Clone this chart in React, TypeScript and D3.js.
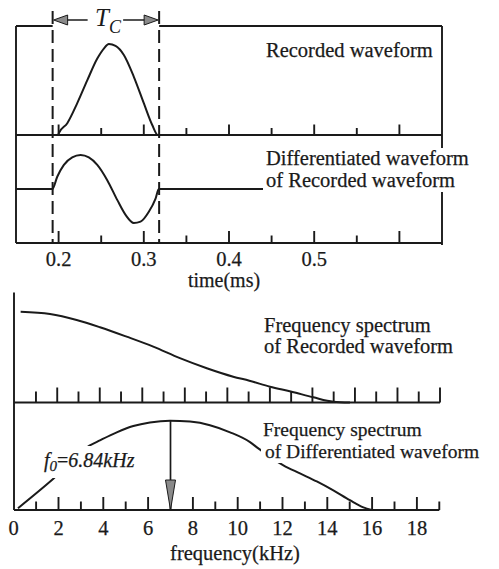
import React from "react";
import * as d3 from "d3";

// ---------- data ----------
const timeTicks = [0.2, 0.25, 0.3, 0.35, 0.4, 0.45, 0.5, 0.55, 0.6];
const timeLabels = [0.2, 0.3, 0.4, 0.5];
const tcStart = 0.193;
const tcEnd = 0.318;

const recordedT = [0.15, 0.1995, 0.2003, 0.2102, 0.2219, 0.2336, 0.2454, 0.2531, 0.259, 0.2668, 0.2766, 0.2883, 0.3, 0.3099, 0.3165, 0.65];
const recordedV = [0, 0, 0.02, 0.13, 0.35, 0.6, 0.84, 0.95, 1.0, 0.98, 0.88, 0.64, 0.35, 0.11, 0.0, 0];

const diffT = [0.15, 0.1926, 0.1984, 0.2062, 0.216, 0.2258, 0.2355, 0.2454, 0.2571, 0.2688, 0.2786, 0.2883, 0.2962, 0.3059, 0.3138, 0.3176, 0.65];
const diffV = [0, 0.0, 0.36, 0.71, 0.93, 1.0, 0.93, 0.71, 0.26, -0.32, -0.76, -1.0, -0.96, -0.67, -0.28, 0.0, 0];

const freqLabels = [0, 2, 4, 6, 8, 10, 12, 14, 16, 18];
const freqTicksBottom = [1, 2, 3, 4, 5, 6, 7, 8, 9, 10, 11, 12, 13, 14, 15, 16, 17, 18, 19];
const freqTicksMid = [1, 2, 3, 4, 5, 6, 7, 8, 9, 10, 11, 12, 13, 14, 15, 16, 17, 18, 19, 20];

const spec1F = [0.31, 1.62, 2.81, 3.85, 5.04, 6.23, 7.42, 8.62, 9.8, 10.52, 11.44, 12.41, 13.38, 14.27, 15.01];
const spec1V = [1.0, 0.975, 0.909, 0.829, 0.725, 0.615, 0.488, 0.377, 0.284, 0.24, 0.174, 0.119, 0.057, 0.009, 0.0];

const spec2F = [0.19, 1.77, 3.38, 3.85, 4.6, 5.34, 6.08, 6.98, 7.87, 8.76, 9.66, 10.55, 10.92, 12.04, 12.78, 13.53, 14.27, 15.01, 15.61, 15.98];
const spec2V = [0.02, 0.35, 0.72, 0.78, 0.87, 0.94, 0.98, 1.0, 0.99, 0.95, 0.87, 0.76, 0.69, 0.5, 0.41, 0.32, 0.22, 0.11, 0.03, 0.0];

const peakFreqMark = 7.0;
const f0Text = "6.84kHz";

// ---------- layout ----------
const W = 499, H = 569;
const FONT = "Liberation Serif, DejaVu Serif, Times New Roman, serif";
const INK = "#1a1a1a";

export default function App() {
  const xT = d3.scaleLinear().domain([0.15, 0.65]).range([16, 442]);
  const yRec = d3.scaleLinear().domain([0, 1]).range([135, 44]);
  const yDiff = d3.scaleLinear().domain([-1, 1]).range([223, 155]);
  const xF = d3.scaleLinear().domain([0, 19]).range([13.7, 439.3]);
  const xFm = d3.scaleLinear().domain([0, 20]).range([14.7, 440]);
  const yS1 = d3.scaleLinear().domain([0, 1]).range([402.5, 311.7]);
  const yS2 = d3.scaleLinear().domain([0, 1]).range([510, 420.7]);

  const topY = 26, midY = 135, botY = 243;
  const fMidY = 402.5, fBotY = 510;

  const lineT = d3.line<number>().curve(d3.curveMonotoneX);
  const recPath = lineT(recordedT.map((t, i) => [xT(t), yRec(recordedV[i])]) as any);
  const diffPath = lineT(diffT.map((t, i) => [xT(t), yDiff(diffV[i])]) as any);
  const s1Path = lineT(spec1F.map((f, i) => [xF(f), yS1(spec1V[i])]) as any);
  const s2Path = lineT(spec2F.map((f, i) => [xF(f), yS2(spec2V[i])]) as any);

  const xa = xT(tcStart), xb = xT(tcEnd);
  const arrowY = 20;
  const ax = xF(peakFreqMark);
  const peakY = yS2(1);

  const tProps = { fontFamily: FONT, fontSize: 20.5, fill: INK, stroke: INK, strokeWidth: 0.25 };

  return (
    <svg width={W} height={H} style={{ position: "absolute", left: 0, top: 0, background: "#fff" }}>
      <rect x={0} y={0} width={W} height={H} fill="#fff" />
      {/* ===== top panel ===== */}
      <g stroke={INK} strokeWidth={1.9} fill="none">
        <line x1={xT(0.15)} y1={topY} x2={xT(0.15)} y2={botY} />
        <line x1={xT(0.15)} y1={topY} x2={xa} y2={topY} />
        <line x1={xb} y1={topY} x2={xT(0.65)} y2={topY} />
        <line x1={xT(0.65)} y1={topY} x2={xT(0.65)} y2={botY + 2} />
        <line x1={xT(0.15)} y1={midY} x2={xT(0.65)} y2={midY} />
        <line x1={xT(0.15)} y1={botY} x2={xT(0.65)} y2={botY} />
        {timeTicks.map((t) => {
          const major = Math.round(t * 100) % 10 === 0;
          return <line key={"m" + t} x1={xT(t)} x2={xT(t)} y1={midY} y2={midY - (major ? 10.5 : 7)} />;
        })}
        {timeTicks.map((t) => {
          const major = Math.round(t * 100) % 10 === 0;
          return <line key={"b" + t} x1={xT(t)} x2={xT(t)} y1={botY} y2={botY - (major ? 12 : 7.5)} />;
        })}
        <path d={recPath!} strokeWidth={2} />
        <path d={diffPath!} strokeWidth={2} />
      </g>
      {/* dashed Tc lines */}
      <g stroke={INK} strokeWidth={2} strokeDasharray="13,6">
        <line x1={xa} x2={xa} y1={11} y2={botY} />
        <line x1={xb} x2={xb} y1={11} y2={botY} />
      </g>
      {/* Tc arrows */}
      <g stroke={INK} strokeWidth={1.5}>
        <line x1={xa + 14} x2={xa + 35} y1={arrowY} y2={arrowY} />
        <line x1={xb - 36} x2={xb - 14} y1={arrowY} y2={arrowY} />
        <path d={`M${xa + 1},${arrowY} L${xa + 15},${arrowY - 5} L${xa + 15},${arrowY + 5} Z`} fill="#8a8a8a" strokeWidth={1} />
        <path d={`M${xb - 1},${arrowY} L${xb - 15},${arrowY - 5} L${xb - 15},${arrowY + 5} Z`} fill="#8a8a8a" strokeWidth={1} />
      </g>
      <text x={95} y={26} fontFamily={FONT} fontStyle="italic" fontSize={25} fill={INK}>T</text>
      <text x={109} y={33} fontFamily={FONT} fontStyle="italic" fontSize={18} fill={INK}>C</text>

      <text x={266} y={57} {...tProps}>Recorded waveform</text>
      <rect x={263} y={148} width={215} height={44} fill="#fff" />
      <text x={266} y={165} {...tProps}>Differentiated waveform</text>
      <text x={266} y={187} {...tProps}>of Recorded waveform</text>

      {timeLabels.map((t) => (
        <text key={"tl" + t} x={xT(t)} y={266} textAnchor="middle" {...tProps}>{t.toFixed(1)}</text>
      ))}
      <text x={224} y={287} textAnchor="middle" {...tProps} fontSize={20}>time(ms)</text>

      {/* ===== bottom panel ===== */}
      <g stroke={INK} strokeWidth={1.9} fill="none">
        <line x1={14} x2={14} y1={292.5} y2={fBotY} />
        <line x1={14} x2={xFm(20)} y1={fMidY} y2={fMidY} />
        <line x1={14} x2={xF(19)} y1={fBotY} y2={fBotY} />
        {freqTicksMid.map((f) => (
          <line key={"fm" + f} x1={xFm(f)} x2={xFm(f)} y1={fMidY} y2={fMidY - (f % 2 === 0 ? 15 : 11)} />
        ))}
        {freqTicksBottom.map((f) => (
          <line key={"fb" + f} x1={xF(f)} x2={xF(f)} y1={fBotY} y2={fBotY - (f % 2 === 0 ? 13 : 8.5)} />
        ))}
        <path d={s1Path!} strokeWidth={2} />
        <path d={s2Path!} strokeWidth={2} />
      </g>
      {/* label background covering curve */}
      <rect x={40} y={446} width={118} height={32} fill="#fff" />
      <rect x={261} y={442} width={232} height={21} fill="#fff" />
      {/* f0 arrow */}
      <line x1={ax} x2={ax} y1={peakY} y2={fBotY - 6} stroke={INK} strokeWidth={1.7} />
      <path d={`M${ax},${fBotY} L${ax - 5},${fBotY - 30} L${ax + 5},${fBotY - 30} Z`} fill="#8a8a8a" stroke={INK} strokeWidth={1} />

      <text x={44} y={467} fontFamily={FONT} fontStyle="italic" fontSize={20} fill={INK} stroke={INK} strokeWidth={0.25}>
        f<tspan fontSize={15} dy={4}>0</tspan>
        <tspan dy={-4} fontStyle="normal">=</tspan>
        <tspan>{f0Text}</tspan>
      </text>

      <text x={264} y={332} {...tProps}>Frequency spectrum</text>
      <text x={264} y={353} {...tProps}>of Recorded waveform</text>
      <text x={263} y={436} {...tProps} fontSize={19.5}>Frequency spectrum</text>
      <text x={265} y={458} {...tProps} fontSize={19.5}>of Differentiated waveform</text>

      {freqLabels.map((f) => (
        <text key={"fl" + f} x={xF(f)} y={535} textAnchor="middle" {...tProps}>{f}</text>
      ))}
      <text x={235} y={560} textAnchor="middle" {...tProps}>frequency(kHz)</text>
    </svg>
  );
}
